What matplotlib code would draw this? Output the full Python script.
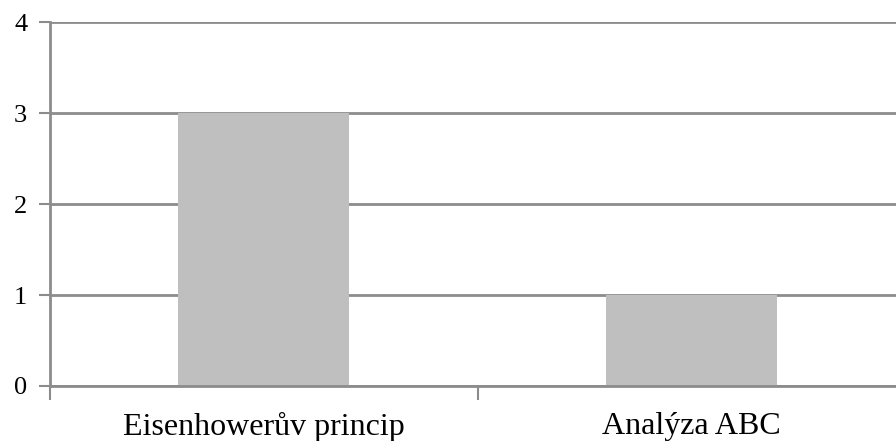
import matplotlib.pyplot as plt

# Data
categories = ["Eisenhowerův princip", "Analýza ABC"]
values = [3, 1]
y_ticks = [0, 1, 2, 3, 4]

plt.rcParams['font.family'] = ['Liberation Serif', 'DejaVu Serif']

line_col = "#8c8c8c"

fig = plt.figure(figsize=(8.96, 4.41), dpi=100)
# axes runs slightly past the right edge of the figure
ax = fig.add_axes([49.5 / 896, (441 - 386) / 441, 856 / 896, 364 / 441])

x = list(range(len(categories)))
ax.bar(x, values, width=0.4, color="#bfbfbf", zorder=2)

ax.set_xlim(-0.5, len(categories) - 0.5)
ax.set_ylim(0, 4)
ax.set_yticks(y_ticks)
ax.set_yticklabels([str(v) for v in y_ticks])

ax.set_xticks(x)
ax.set_xticklabels(categories)
ax.tick_params(axis='x', which='major', length=0, pad=19, labelsize=23)
ax.set_xticks([i - 0.5 for i in range(len(categories) + 1)], minor=True)
ax.tick_params(axis='x', which='minor', length=10, width=1.5, color=line_col)
ax.tick_params(axis='y', length=8, width=1.5, color=line_col, pad=8,
               labelsize=19)

ax.yaxis.grid(True, color=line_col, linewidth=2, zorder=1)
ax.set_axisbelow(True)

for side in ['top', 'right']:
    ax.spines[side].set_visible(False)
ax.spines['left'].set_color(line_col)
ax.spines['left'].set_linewidth(2)
ax.spines['bottom'].set_color(line_col)
ax.spines['bottom'].set_linewidth(2)

fig.savefig("out.png", dpi=100)
